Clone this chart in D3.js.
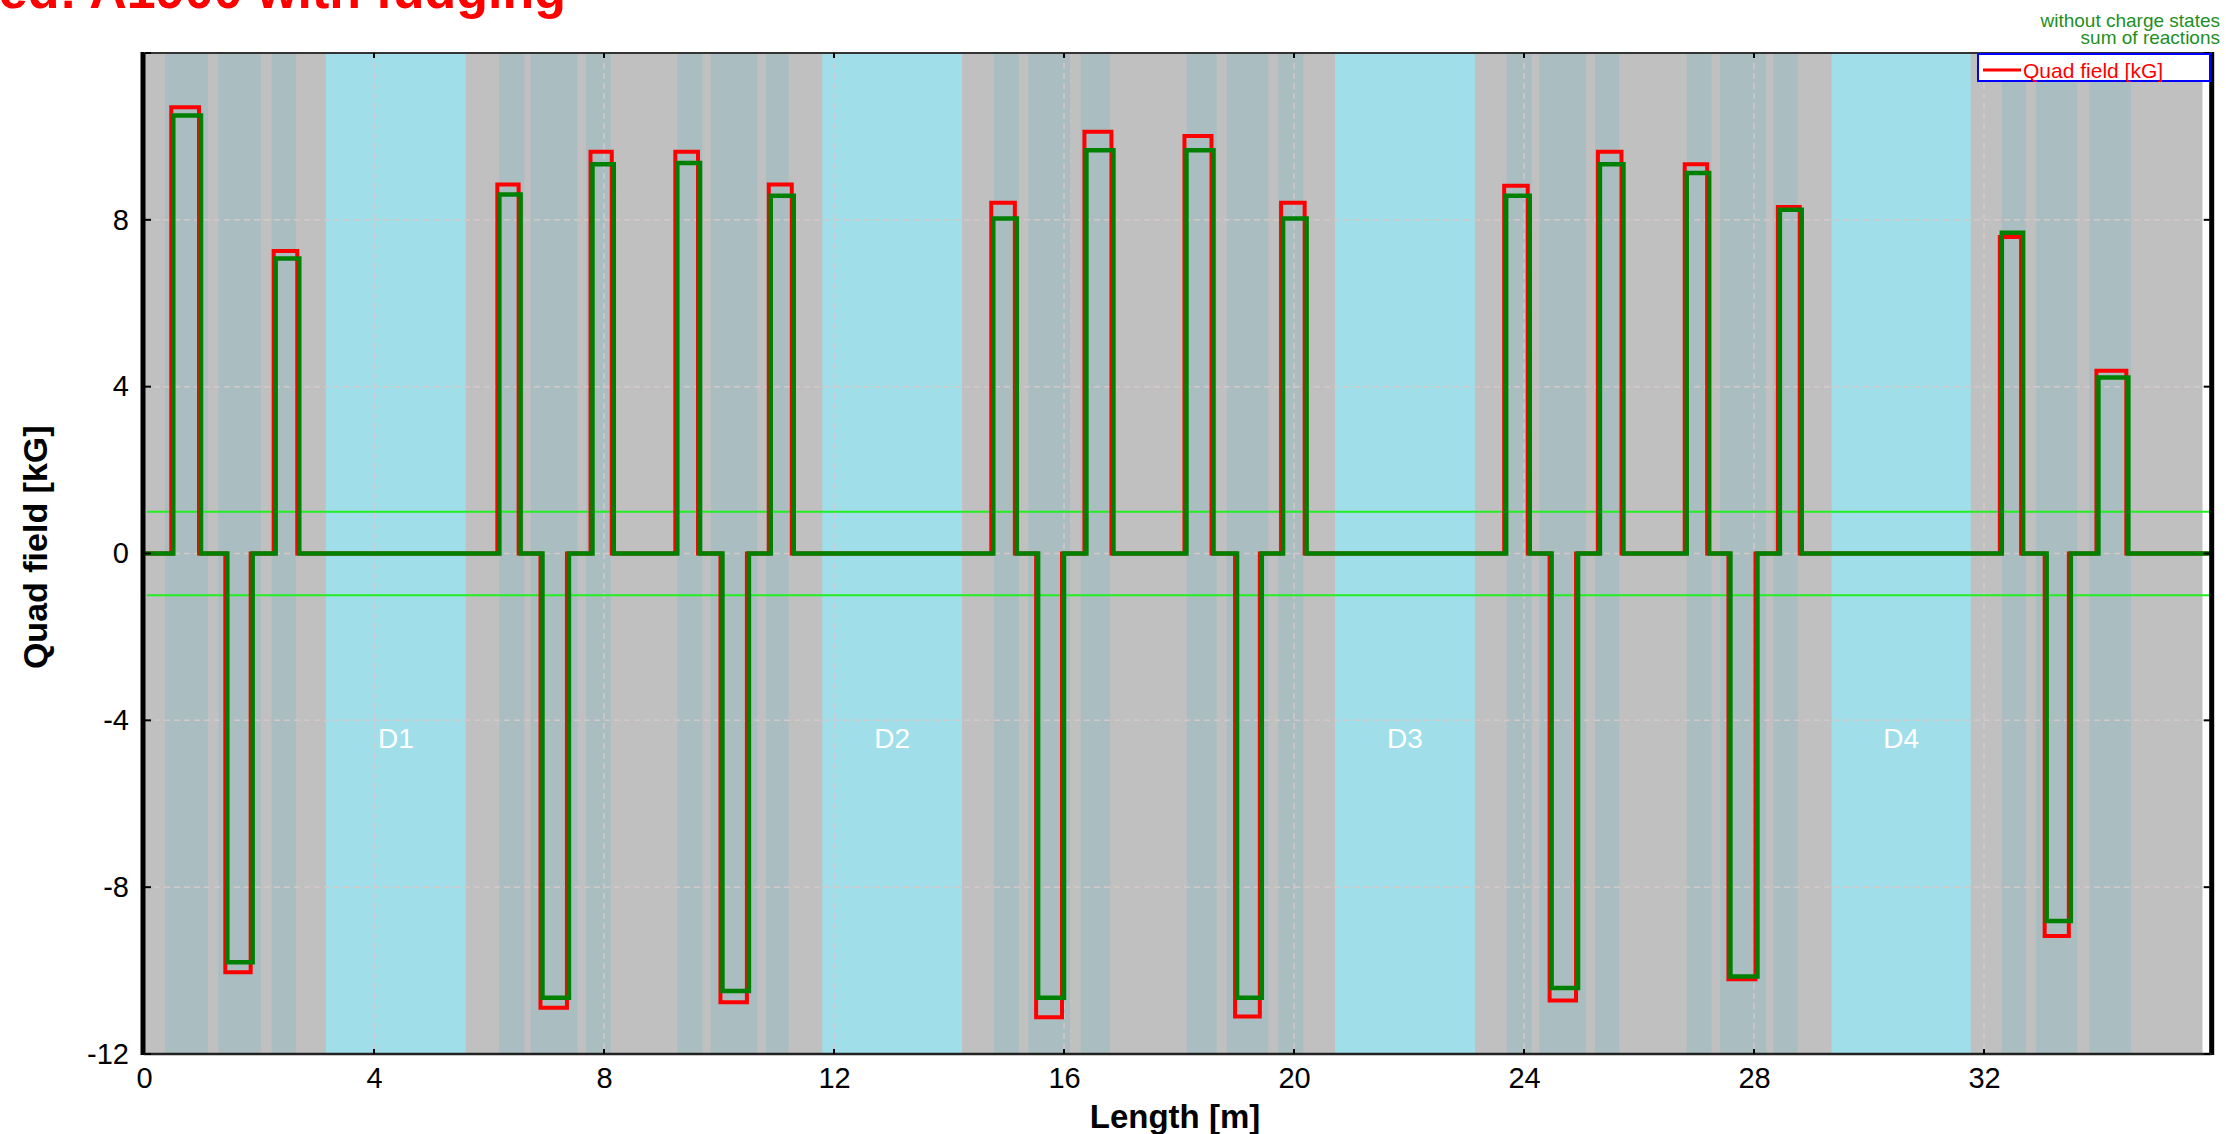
<!DOCTYPE html>
<html>
<head>
<meta charset="utf-8">
<script src="https://cdn.jsdelivr.net/npm/d3@7/dist/d3.min.js"></script>
<style>
    html, body { margin: 0; padding: 0; background: #fff; }
    svg { display: block; font-family: "Liberation Sans", Arial, sans-serif; }
</style>
</head>
<body>
<svg id="chart" width="2226" height="1134"></svg>
<script>
//----------------------------------------------------------------
// Données (longueur en m, champ en kG)
//----------------------------------------------------------------
const xTicks = [0, 4, 8, 12, 16, 20, 24, 28, 32];
const yTicks = [-12, -8, -4, 0, 4, 8];
const gridX = [4, 8, 12, 16, 20, 24, 28, 32];
const gridY = [-8, -4, 0, 4, 8];
const limitLines = [1, -1];

// zones des quadripôles (bandes foncées)
const quadZones = [
    [0.365, 1.113], [1.292, 2.03], [2.22, 2.643],
    [6.18, 6.614], [6.725, 7.536], [7.687, 8.117],
    [9.275, 9.71], [9.856, 10.666], [10.817, 11.212],
    [14.783, 15.217], [15.379, 16.104], [16.29, 16.8],
    [18.134, 18.656], [18.83, 19.553], [19.727, 20.162],
    [23.699, 24.134], [24.266, 25.078], [25.235, 25.657],
    [26.83, 27.26], [27.41, 28.21], [28.335, 28.76],
    [32.31, 32.73], [32.9, 33.62], [33.83, 34.557]
];

// dipôles
const dipoleNames = ["D1", "D2", "D3", "D4"];
const dipoleZones = [[3.165, 5.595], [11.797, 14.226], [20.713, 23.148], [29.35, 31.77]];
const beamEnd = 35.8;
const lineEnd = 35.93;

// longueur effective du champ de chaque quad
const quadStart = [0.509, 1.449, 2.29, 6.18, 6.93, 7.80, 9.275, 10.06, 10.90, 14.77, 15.55, 16.39,
                   18.13, 19.01, 19.81, 23.69, 24.48, 25.32, 26.83, 27.59, 28.45, 32.31, 33.09, 33.99];
const quadEnd = [0.991, 1.89, 2.70, 6.55, 7.39, 8.17, 9.67, 10.52, 11.30, 15.18, 16.0, 16.86,
                 18.60, 19.44, 20.22, 24.10, 24.94, 25.73, 27.22, 28.06, 28.83, 32.68, 33.51, 34.51];

// champ [kG] : courbe rouge et courbe verte
const fieldRed = [10.7, -10.04, 7.25, 8.85, -10.89, 9.63, 9.63, -10.76, 8.85, 8.41, -11.12, 10.11,
                  10.01, -11.1, 8.41, 8.82, -10.72, 9.63, 9.33, -10.21, 8.31, 7.59, -9.17, 4.38];
const fieldGreen = [10.5, -9.8, 7.07, 8.61, -10.65, 9.33, 9.36, -10.49, 8.58, 8.03, -10.65, 9.67,
                    9.67, -10.65, 8.03, 8.58, -10.42, 9.33, 9.12, -10.14, 8.24, 7.69, -8.81, 4.22];

//----------------------------------------------------------------
// Echelles
//----------------------------------------------------------------
const svg = d3.select("#chart");
const x = d3.scaleLinear().domain([0, 35.96]).range([144, 2211.7]);
const y = d3.scaleLinear().domain([-12, 12]).range([1054, 53]);

/**
 * construit la courbe en escalier à partir des valeurs des quads
 */
function stepPoints(values) {
    let pts = [[0, 0]];
    quadStart.forEach(function (s, i) {
        pts.push([s, 0], [s, values[i]], [quadEnd[i], values[i]], [quadEnd[i], 0]);
    });
    pts.push([lineEnd, 0]);
    return pts;
}

// fond gris de la ligne
svg.append("rect")
    .attr("x", x(0)).attr("y", y(12))
    .attr("width", x(beamEnd) - x(0))
    .attr("height", y(-12) - y(12))
    .attr("fill", "#c0c0c0");

svg.append("g").selectAll("rect")
    .data(quadZones)
    .join("rect")
    .attr("x", d => x(d[0]))
    .attr("y", y(12))
    .attr("width", d => x(d[1]) - x(d[0]))
    .attr("height", y(-12) - y(12))
    .attr("fill", "#aabec1");

svg.append("g").selectAll("rect")
    .data(dipoleZones)
    .join("rect")
    .attr("x", d => x(d[0]))
    .attr("y", y(12))
    .attr("width", d => x(d[1]) - x(d[0]))
    .attr("height", y(-12) - y(12))
    .attr("fill", "#a0dfea");

// grille pointillée
const grid = svg.append("g")
    .attr("stroke", "#d3c8c8")
    .attr("stroke-width", 1.5)
    .attr("stroke-dasharray", "6,4");
grid.selectAll("line.gx")
    .data(gridX)
    .join("line")
    .attr("class", "gx")
    .attr("x1", d => x(d)).attr("x2", d => x(d))
    .attr("y1", y(12)).attr("y2", y(-12));
grid.selectAll("line.gy")
    .data(gridY)
    .join("line")
    .attr("class", "gy")
    .attr("x1", x(0)).attr("x2", x(beamEnd))
    .attr("y1", d => y(d)).attr("y2", d => y(d));

// noms des dipôles
svg.append("g").selectAll("text")
    .data(dipoleZones)
    .join("text")
    .attr("x", d => x((d[0] + d[1]) / 2))
    .attr("y", y(-4.66))
    .attr("text-anchor", "middle")
    .attr("font-size", 28)
    .attr("fill", "#ffffff")
    .text((d, i) => dipoleNames[i]);

// limites +/- 1 kG
svg.append("g").selectAll("line")
    .data(limitLines)
    .join("line")
    .attr("x1", x(0.05)).attr("x2", x(lineEnd))
    .attr("y1", d => y(d)).attr("y2", d => y(d))
    .attr("stroke", "#22ee22")
    .attr("stroke-width", 2);

// courbes
const line = d3.line().x(d => x(d[0])).y(d => y(d[1]));
svg.append("path")
    .attr("d", line(stepPoints(fieldRed)))
    .attr("transform", "translate(-2,0)")
    .attr("fill", "none")
    .attr("stroke", "#ff0000")
    .attr("stroke-width", 4)
    .attr("stroke-linejoin", "miter");
svg.append("path")
    .attr("d", line(stepPoints(fieldGreen)))
    .attr("fill", "none")
    .attr("stroke", "#008000")
    .attr("stroke-width", 4.5)
    .attr("stroke-linejoin", "miter");

//----------------------------------------------------------------
// Cadre et axes
//----------------------------------------------------------------
svg.append("line")
    .attr("x1", x(0) - 1).attr("x2", x(0) - 1)
    .attr("y1", y(12) - 1).attr("y2", y(-12) + 1)
    .attr("stroke", "#000").attr("stroke-width", 5);
svg.append("line")
    .attr("x1", x(35.96)).attr("x2", x(35.96))
    .attr("y1", y(12) - 1).attr("y2", y(-12) + 1)
    .attr("stroke", "#000").attr("stroke-width", 5);
svg.append("line")
    .attr("x1", x(0)).attr("x2", x(35.96))
    .attr("y1", y(12)).attr("y2", y(12))
    .attr("stroke", "#333").attr("stroke-width", 2);
svg.append("line")
    .attr("x1", x(0)).attr("x2", x(35.96))
    .attr("y1", y(-12)).attr("y2", y(-12))
    .attr("stroke", "#222").attr("stroke-width", 2.5);

// petites graduations vers l'intérieur
const ticks = svg.append("g").attr("stroke", "#000").attr("stroke-width", 2);
ticks.selectAll("line.yl")
    .data(yTicks.concat([12]))
    .join("line").attr("class", "yl")
    .attr("x1", x(0) + 1).attr("x2", x(0) + 7)
    .attr("y1", d => y(d)).attr("y2", d => y(d));
ticks.selectAll("line.yr")
    .data(yTicks.concat([12]))
    .join("line").attr("class", "yr")
    .attr("x1", x(35.96) - 8).attr("x2", x(35.96) - 2)
    .attr("y1", d => y(d)).attr("y2", d => y(d));
ticks.selectAll("line.xb")
    .data(xTicks)
    .join("line").attr("class", "xb")
    .attr("x1", d => x(d)).attr("x2", d => x(d))
    .attr("y1", y(-12)).attr("y2", y(-12) - 5);
ticks.selectAll("line.xt")
    .data(xTicks)
    .join("line").attr("class", "xt")
    .attr("x1", d => x(d)).attr("x2", d => x(d))
    .attr("y1", y(12)).attr("y2", y(12) + 5);

// libellés des axes (tiret simple comme signe moins)
const yAxis = svg.append("g")
    .attr("transform", "translate(" + x(0) + ",0)")
    .call(d3.axisLeft(y).tickValues(yTicks).tickFormat(d => String(d)).tickSize(0).tickPadding(15));
const xAxis = svg.append("g")
    .attr("transform", "translate(0," + y(-12) + ")")
    .call(d3.axisBottom(x).tickValues(xTicks).tickFormat(d => String(d)).tickSize(0).tickPadding(13));
[yAxis, xAxis].forEach(function (a) {
    a.select(".domain").remove();
    a.selectAll("text")
        .attr("font-family", "Liberation Sans, Arial, sans-serif")
        .attr("font-size", 29)
        .attr("fill", "#000");
});

svg.append("text")
    .attr("x", 1175).attr("y", 1128)
    .attr("text-anchor", "middle")
    .attr("font-size", 33).attr("font-weight", "bold")
    .text("Length [m]");
svg.append("text")
    .attr("transform", "translate(35," + y(0.15) + ") rotate(-90)")
    .attr("text-anchor", "middle")
    .attr("dominant-baseline", "central")
    .attr("font-size", 34).attr("font-weight", "bold")
    .text("Quad field [kG]");

// titre (coupé en haut de l'image)
svg.append("text")
    .attr("x", 566).attr("y", 8)
    .attr("text-anchor", "end")
    .attr("font-size", 52).attr("font-weight", "bold")
    .attr("fill", "#ff0000")
    .text("Optimized: A1900 with fudging");

// textes verts en haut à droite
svg.append("text")
    .attr("x", 2220).attr("y", 27)
    .attr("text-anchor", "end")
    .attr("font-size", 19).attr("fill", "#1e8f1e")
    .text("without charge states");
svg.append("text")
    .attr("x", 2220).attr("y", 44)
    .attr("text-anchor", "end")
    .attr("font-size", 19).attr("fill", "#1e8f1e")
    .text("sum of reactions");

// légende
svg.append("rect")
    .attr("x", 1978).attr("y", 54)
    .attr("width", 232).attr("height", 27)
    .attr("fill", "#fff")
    .attr("stroke", "#0000ff").attr("stroke-width", 2);
svg.append("line")
    .attr("x1", 1983).attr("x2", 2021)
    .attr("y1", 70).attr("y2", 70)
    .attr("stroke", "#ff0000").attr("stroke-width", 3);
svg.append("text")
    .attr("x", 2023).attr("y", 78)
    .attr("font-size", 21).attr("fill", "#ff0000")
    .text("Quad field [kG]");
</script>
</body>
</html>
